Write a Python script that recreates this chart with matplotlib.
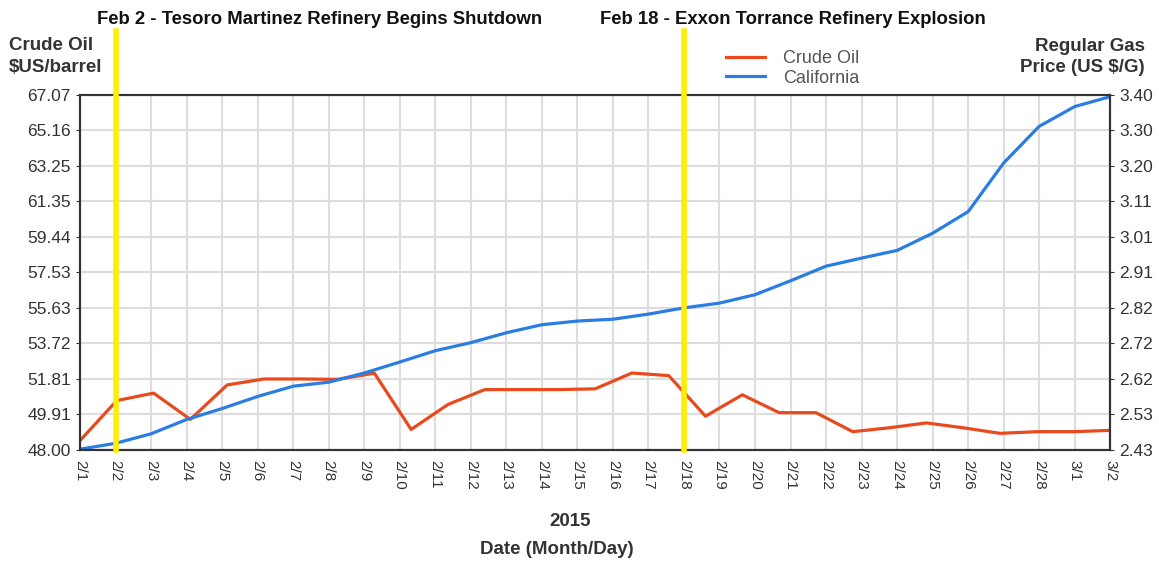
import numpy as np
import matplotlib
matplotlib.use('Agg')
import matplotlib.pyplot as plt

plt.rcParams['font.family'] = ['Liberation Sans', 'DejaVu Sans']

# Dates (Month/Day)
dates = ['2/1', '2/2', '2/3', '2/4', '2/5', '2/6', '2/7', '2/8', '2/9', '2/10',
         '2/11', '2/12', '2/13', '2/14', '2/15', '2/16', '2/17', '2/18', '2/19', '2/20',
         '2/21', '2/22', '2/23', '2/24', '2/25', '2/26', '2/27', '2/28', '3/1', '3/2']

# California regular gas price (US $/G), one value per date
california = [2.432, 2.448, 2.474, 2.513, 2.543, 2.576, 2.604, 2.615, 2.640, 2.670,
              2.701, 2.723, 2.750, 2.772, 2.782, 2.787, 2.801, 2.818, 2.831, 2.854,
              2.892, 2.932, 2.954, 2.975, 3.022, 3.081, 3.214, 3.314, 3.368, 3.395]

# Crude oil ($US/barrel), 29 samples spread over the same period
crude_oil = [48.50, 50.65, 51.05, 49.64, 51.49, 51.81, 51.81, 51.79, 52.12, 49.10,
             50.44, 51.24, 51.24, 51.24, 51.28, 52.13, 51.99, 49.81, 50.96, 50.00,
             50.00, 48.98, 49.19, 49.45, 49.19, 48.89, 48.98, 48.98, 49.05]

crude_ticks = ['48.00', '49.91', '51.81', '53.72', '55.63', '57.53', '59.44',
               '61.35', '63.25', '65.16', '67.07']
gas_ticks = ['2.43', '2.53', '2.62', '2.72', '2.82', '2.91', '3.01',
             '3.11', '3.20', '3.30', '3.40']

events = [(1, 'Feb 2 - Tesoro Martinez Refinery Begins Shutdown', 0.084),
          (17, 'Feb 18 - Exxon Torrance Refinery Explosion', 0.518)]

red = '#e84a1e'
blue = '#2a7de1'
txt = '#333333'

fig = plt.figure(figsize=(11.59, 5.61), dpi=100)
ax = fig.add_axes([0.069, 0.198, 0.889, 0.633])
ax2 = ax.twinx()

x_gas = np.arange(len(dates))
x_crude = np.linspace(0, len(dates) - 1, len(crude_oil))

l1, = ax.plot(x_crude, crude_oil, color=red, lw=2.3, label='Crude Oil')
l2, = ax2.plot(x_gas, california, color=blue, lw=2.3, label='California')

ax.set_xlim(0, len(dates) - 1)
ax.set_ylim(48.00, 67.07)
ax2.set_ylim(2.43, 3.40)
ax.set_yticks(np.linspace(48.00, 67.07, 11))
ax.set_yticklabels(crude_ticks)
ax2.set_yticks(np.linspace(2.43, 3.40, 11))
ax2.set_yticklabels(gas_ticks)
ax.set_xticks(x_gas)
ax.set_xticklabels(dates, rotation=270, fontsize=11, color=txt)

ax.grid(True, color='#dddddd', lw=1.5)
ax.set_axisbelow(True)
for a in (ax, ax2):
    for s in a.spines.values():
        s.set_color('#333333')
        s.set_linewidth(1.5)
    a.tick_params(axis='y', labelsize=12.5, colors=txt, length=3)
ax.tick_params(axis='x', length=0, pad=7)

# yellow event markers
for xi, label, tx in events:
    ax2.axvline(xi, ymin=0, ymax=1.18, color='#ffee00', lw=4, clip_on=False, zorder=5)
    fig.text(tx, 0.966, label, fontsize=13.3, fontweight='bold', color='#111111',
             ha='left', va='center')

fig.text(0.008, 0.899, 'Crude Oil\n$US/barrel', fontsize=13.5, fontweight='bold',
         color=txt, ha='left', va='center', linespacing=1.35)
fig.text(0.988, 0.899, 'Regular Gas\nPrice (US $/G)', fontsize=13.5, fontweight='bold',
         color=txt, ha='right', va='center', linespacing=1.3)

fig.text(0.492, 0.062, '2015', fontsize=13.5, fontweight='bold', color=txt, ha='center')
fig.text(0.480, 0.012, 'Date (Month/Day)', fontsize=13.5, fontweight='bold', color=txt, ha='center')

fig.legend([l1, l2], ['Crude Oil', 'California'], loc='center left',
           bbox_to_anchor=(0.612, 0.878), frameon=False, fontsize=13,
           handlelength=2.2, labelspacing=0.15, handletextpad=1.0, labelcolor='#555555')

fig.savefig('out.png', dpi=100)
